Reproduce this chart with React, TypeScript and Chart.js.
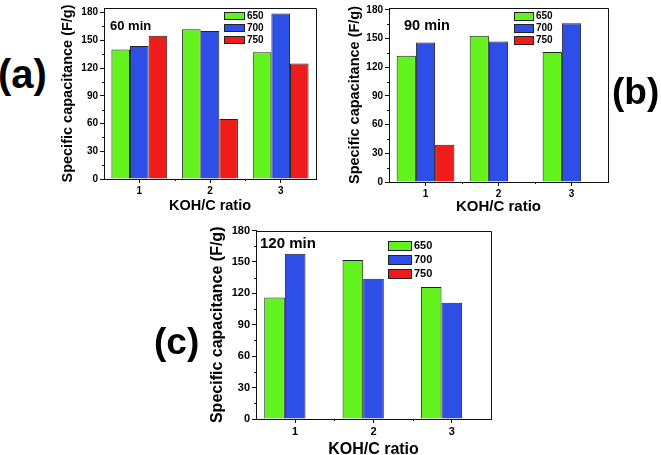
import React, { useEffect, useRef } from "react";
import { Chart, registerables } from "chart.js";

Chart.register(...registerables);

// ---------- data ----------
const categories = ["1", "2", "3"];
const seriesNames = ["650", "700", "750"];
const seriesColors = ["#62f21e", "#2e4ee8", "#f01c1c"];

const a650 = [140, 162, 137];
const a700 = [144, 160, 179];
const a750 = [155, 65, 125];

const b650 = [132, 153, 136];
const b700 = [146, 147, 166];
const b750 = [39, null, null];

const c650 = [116, 152, 126];
const c700 = [158, 134, 111];
const c750 = [null, null, null];

const yTickValues = [0, 30, 60, 90, 120, 150, 180];
const yMinorTicks = [15, 45, 75, 105, 135, 165];
const xMinorTicks = [0.5, 1.5];

const yTitle = "Specific capacitance (F/g)";
const xTitle = "KOH/C ratio";
const FONT = "'Liberation Sans', Arial, sans-serif";

// ---------- panel layout ----------
type Panel = {
  key: string;
  tag: string;
  note: string;
  series: (number | null)[][];
  ymax: number;
  canvas: { left: number; top: number; width: number; height: number };
  pad: { right: number; top: number };
  yw: number;
  xh: number;
  ytPad: number;
  xtPad: number;
  tickFont: number;
  yTitleFont: number;
  xTitleFont: number;
  noteFont: number;
  note_dx: number;
  note_dy: number;
  legend: { dx: number; dy: number; bw: number; bh: number; row: number; font: number };
  label: { left: number; top: number; size: number };
};

const panels: Panel[] = [
  {
    key: "a",
    tag: "(a)",
    note: "60 min",
    series: [a650, a700, a750],
    ymax: 185,
    canvas: { left: 50, top: 0, width: 280, height: 222 },
    pad: { right: 14, top: 7 },
    yw: 54,
    xh: 43,
    ytPad: 9,
    xtPad: 7,
    tickFont: 10,
    yTitleFont: 14.5,
    xTitleFont: 14.5,
    noteFont: 13,
    note_dx: 6,
    note_dy: 18,
    legend: { dx: 120, dy: 8, bw: 21, bh: 8, row: 12, font: 10 },
    label: { left: -2, top: 54, size: 40 },
  },
  {
    key: "b",
    tag: "(b)",
    note: "90 min",
    series: [b650, b700, b750],
    ymax: 182,
    canvas: { left: 335, top: 0, width: 290, height: 222 },
    pad: { right: 17, top: 6 },
    yw: 54,
    xh: 40,
    ytPad: 11,
    xtPad: 6,
    tickFont: 10,
    yTitleFont: 14.5,
    xTitleFont: 15,
    noteFont: 14.5,
    note_dx: 15,
    note_dy: 18,
    legend: { dx: 125, dy: 8, bw: 20, bh: 9, row: 12, font: 10 },
    label: { left: 612, top: 73, size: 37 },
  },
  {
    key: "c",
    tag: "(c)",
    note: "120 min",
    series: [c650, c700, c750],
    ymax: 180,
    canvas: { left: 190, top: 222, width: 310, height: 240 },
    pad: { right: 9, top: 8 },
    yw: 66,
    xh: 43,
    ytPad: 18,
    xtPad: 3,
    tickFont: 11,
    yTitleFont: 16,
    xTitleFont: 16,
    noteFont: 15,
    note_dx: 4,
    note_dy: 13,
    legend: { dx: 132, dy: 15, bw: 24, bh: 10, row: 14, font: 11 },
    label: { left: 154, top: 323, size: 37 },
  },
];

const decorPlugin = {
  id: "panelDecor",
  afterDraw(chart: any, _args: any, opts: any) {
    const { ctx, chartArea: ca, scales } = chart;
    ctx.save();
    ctx.strokeStyle = "#111";
    ctx.lineWidth = 1;
    // top + right frame
    ctx.beginPath();
    ctx.moveTo(ca.left, Math.round(ca.top) + 0.5);
    ctx.lineTo(Math.round(ca.right) + 0.5, Math.round(ca.top) + 0.5);
    ctx.lineTo(Math.round(ca.right) + 0.5, ca.bottom);
    ctx.stroke();
    // minor ticks
    ctx.beginPath();
    for (const v of yMinorTicks) {
      const py = Math.round(scales.y.getPixelForValue(v)) + 0.5;
      ctx.moveTo(ca.left - 2, py);
      ctx.lineTo(ca.left, py);
    }
    for (const v of xMinorTicks) {
      const px = Math.round(scales.x.getPixelForValue(v)) + 0.5;
      ctx.moveTo(px, ca.bottom);
      ctx.lineTo(px, ca.bottom + 2);
    }
    ctx.stroke();
    // note text
    ctx.fillStyle = "#000";
    ctx.font = `bold ${opts.noteFont}px ${FONT}`;
    ctx.textAlign = "left";
    ctx.textBaseline = "middle";
    ctx.fillText(opts.note, ca.left + opts.noteDx, ca.top + opts.noteDy);
    // legend
    const lg = opts.legend;
    ctx.font = `bold ${lg.font}px ${FONT}`;
    chart.data.datasets.forEach((ds: any, i: number) => {
      const x = Math.round(ca.left + lg.dx);
      const cy = ca.top + lg.dy + i * lg.row;
      const y = Math.round(cy - lg.bh / 2);
      ctx.fillStyle = ds.backgroundColor;
      ctx.fillRect(x, y, lg.bw, lg.bh);
      ctx.strokeStyle = "#222";
      ctx.strokeRect(x + 0.5, y + 0.5, lg.bw - 1, lg.bh - 1);
      ctx.fillStyle = "#000";
      ctx.fillText(ds.label, x + lg.bw + 2, cy + 0.5);
    });
    ctx.restore();
  },
};

function PanelChart({ p }: { p: Panel }) {
  const ref = useRef<HTMLCanvasElement | null>(null);
  useEffect(() => {
    if (!ref.current) return;
    const chart = new Chart(ref.current, {
      type: "bar",
      data: {
        labels: categories,
        datasets: p.series.map((vals, i) => ({
          label: seriesNames[i],
          data: vals,
          backgroundColor: seriesColors[i],
          borderColor: "#222",
          borderWidth: 1,
          categoryPercentage: 0.79,
          barPercentage: 1.0,
        })),
      },
      options: {
        animation: false,
        responsive: false,
        devicePixelRatio: 1,
        events: [],
        layout: { padding: { left: 0, right: p.pad.right, top: p.pad.top, bottom: 0 } },
        plugins: {
          legend: { display: false },
          tooltip: { enabled: false },
          panelDecor: {
            note: p.note,
            noteFont: p.noteFont,
            noteDx: p.note_dx,
            noteDy: p.note_dy,
            legend: p.legend,
          },
        } as any,
        scales: {
          x: {
            type: "category",
            offset: true,
            grid: {
              offset: false,
              drawOnChartArea: false,
              drawTicks: true,
              tickLength: 4,
              color: "#111",
              lineWidth: 1,
            },
            border: { display: true, color: "#111", width: 1 },
            ticks: {
              color: "#000",
              padding: 2,
              maxRotation: 0,
              font: { family: FONT, size: p.tickFont, weight: "bold" },
            },
            title: {
              display: true,
              text: xTitle,
              color: "#000",
              font: { family: FONT, size: p.xTitleFont, weight: "bold" },
              padding: { top: 0, bottom: p.xtPad },
            },
            afterFit: (s: any) => {
              s.height = p.xh;
            },
          },
          y: {
            type: "linear",
            min: 0,
            max: p.ymax,
            afterBuildTicks: (s: any) => {
              s.ticks = yTickValues.map((v) => ({ value: v }));
            },
            grid: {
              drawOnChartArea: false,
              drawTicks: true,
              tickLength: 4,
              color: "#111",
              lineWidth: 1,
            },
            border: { display: true, color: "#111", width: 1 },
            ticks: {
              color: "#000",
              padding: 2,
              font: { family: FONT, size: p.tickFont, weight: "bold" },
            },
            title: {
              display: true,
              text: yTitle,
              color: "#000",
              font: { family: FONT, size: p.yTitleFont, weight: "bold" },
              padding: { top: p.ytPad, bottom: 0 },
            },
            afterFit: (s: any) => {
              s.width = p.yw;
            },
          },
        },
      } as any,
      plugins: [decorPlugin],
    });
    return () => chart.destroy();
  }, [p]);
  return (
    <canvas
      ref={ref}
      width={p.canvas.width}
      height={p.canvas.height}
      style={{
        position: "absolute",
        left: p.canvas.left,
        top: p.canvas.top,
        width: p.canvas.width,
        height: p.canvas.height,
        display: "block",
      }}
    />
  );
}

export default function App() {
  return (
    <div
      style={{
        position: "absolute",
        left: 0,
        top: 0,
        width: 661,
        height: 455,
        overflow: "hidden",
        background: "#fff",
      }}
    >
      {panels.map((p) => (
        <PanelChart key={p.key} p={p} />
      ))}
      {panels.map((p) => (
        <div
          key={"lbl" + p.key}
          style={{
            position: "absolute",
            left: p.label.left,
            top: p.label.top,
            fontFamily: FONT,
            fontWeight: "bold",
            fontSize: p.label.size,
            lineHeight: 1,
            color: "#000",
            whiteSpace: "nowrap",
          }}
        >
          {p.tag}
        </div>
      ))}
    </div>
  );
}
